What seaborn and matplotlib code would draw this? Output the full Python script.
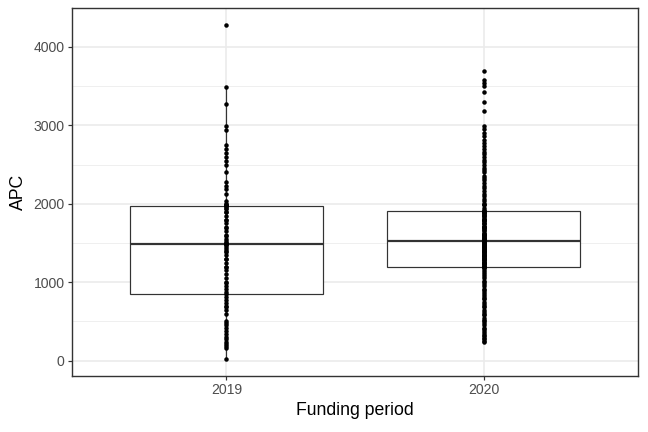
import numpy as np
import pandas as pd
import matplotlib
matplotlib.use("Agg")
import matplotlib.pyplot as plt
import seaborn as sns
from matplotlib.ticker import MultipleLocator

# APC values (one dot per publication)
apc_2019 = [
    25, 160, 185, 210, 240, 270, 300, 340, 380, 420,
    450, 480, 510, 600, 640, 680, 700, 730, 770, 810,
    850,
    880, 920, 950, 990, 1000, 1050, 1100, 1150, 1190, 1200,
    1250, 1290, 1300, 1350, 1390, 1400, 1420, 1450, 1480,
    1487,
    1490, 1500, 1500, 1520, 1550, 1590, 1600, 1650, 1690, 1700,
    1750, 1790, 1800, 1850, 1890, 1900, 1930, 1950, 1970,
    1978,
    1990, 2000, 2000, 2030, 2130, 2190, 2230, 2280, 2400, 2500,
    2550, 2600, 2650, 2700, 2750, 2940, 2990, 3270, 3495, 4285,
]

apc_2020 = [
    238, 250, 270, 290, 310, 330, 350, 380, 400, 420,
    450, 480, 500, 520, 550, 580, 600, 620, 650, 680,
    700, 720, 750, 780, 800, 820, 850, 880, 900, 920,
    950, 980, 1000, 1020, 1050, 1080, 1100, 1130, 1150, 1180,
    1197,
    1200, 1200, 1210, 1220, 1230, 1240, 1250, 1250, 1260, 1270,
    1280, 1290, 1300, 1300, 1310, 1320, 1330, 1340, 1350, 1350,
    1360, 1370, 1380, 1390, 1400, 1400, 1410, 1420, 1430, 1440,
    1450, 1450, 1460, 1470, 1480, 1490, 1500, 1500, 1510,
    1525,
    1530, 1540, 1550, 1550, 1560, 1570, 1580, 1590, 1600, 1600,
    1610, 1620, 1630, 1650, 1660, 1680, 1690, 1700, 1700, 1710,
    1720, 1740, 1750, 1760, 1780, 1790, 1800, 1800, 1810, 1820,
    1840, 1850, 1860, 1870, 1880, 1890, 1900, 1900, 1905,
    1911,
    1920, 1950, 1980, 2000, 2000, 2030, 2060, 2100, 2130, 2160,
    2200, 2230, 2260, 2300, 2330, 2360, 2400, 2430, 2460, 2500,
    2530, 2560, 2600, 2630, 2660, 2700, 2740, 2780, 2820, 2860,
    2900, 2950, 2990, 3180, 3303, 3422, 3507, 3542, 3584, 3690,
]

periods = ["2019", "2020"]

df = pd.DataFrame({
    "period": [periods[0]] * len(apc_2019) + [periods[1]] * len(apc_2020),
    "APC": apc_2019 + apc_2020,
})

sns.set_style("white")
plt.rcParams["font.family"] = ["Liberation Sans", "DejaVu Sans"]

fig = plt.figure(figsize=(9, 6), dpi=72)
ax = fig.add_axes([0.111, 0.1296, 0.8736, 0.852])

grid_col = "#EBEBEB"
edge = "#333333"

sns.boxplot(
    data=df, x="period", y="APC", order=periods, ax=ax,
    width=0.75, color="white", linecolor=edge, linewidth=1.2,
    showcaps=False, showfliers=False,
    medianprops={"linewidth": 2.2, "color": edge},
    boxprops={"facecolor": "white", "edgecolor": edge, "zorder": 2},
    whiskerprops={"color": edge, "linewidth": 1.2},
)
sns.stripplot(
    data=df, x="period", y="APC", order=periods, ax=ax,
    jitter=False, color="black", size=4.5, linewidth=0, zorder=3,
)

ax.set_xlim(-0.6, 1.6)
ax.set_ylim(-196, 4498)
ax.yaxis.set_major_locator(MultipleLocator(1000))
ax.yaxis.set_minor_locator(MultipleLocator(500))

ax.set_axisbelow(True)
ax.grid(True, which="major", color=grid_col, linewidth=1.6)
ax.grid(True, which="minor", axis="y", color=grid_col, linewidth=0.8)

for s in ax.spines.values():
    s.set_color(edge)
    s.set_linewidth(1.4)

ax.tick_params(axis="both", which="major", length=4.4, width=1.2, color=edge,
               labelsize=14, labelcolor="#4D4D4D", pad=3, left=True, bottom=True)
ax.tick_params(axis="y", which="minor", length=0)

ax.set_xlabel("Funding period", fontsize=17.6, color="black", labelpad=5)
ax.set_ylabel("APC", fontsize=17.6, color="black", labelpad=6)

fig.savefig("out.png", dpi=72, facecolor="white")
